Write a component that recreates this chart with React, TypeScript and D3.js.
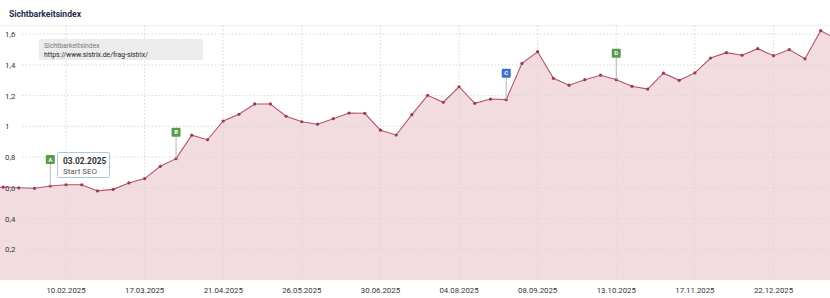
import React from "react";
import * as d3 from "d3";

const dates = [
  "06.01.2025","13.01.2025","20.01.2025","27.01.2025","03.02.2025","10.02.2025","17.02.2025","24.02.2025",
  "03.03.2025","10.03.2025","17.03.2025","24.03.2025","31.03.2025","07.04.2025","14.04.2025","21.04.2025",
  "28.04.2025","05.05.2025","12.05.2025","19.05.2025","26.05.2025","02.06.2025","09.06.2025","16.06.2025",
  "23.06.2025","30.06.2025","07.07.2025","14.07.2025","21.07.2025","28.07.2025","04.08.2025","11.08.2025",
  "18.08.2025","25.08.2025","01.09.2025","08.09.2025","15.09.2025","22.09.2025","29.09.2025","06.10.2025",
  "13.10.2025","20.10.2025","27.10.2025","03.11.2025","10.11.2025","17.11.2025","24.11.2025","01.12.2025",
  "08.12.2025","15.12.2025","22.12.2025","29.12.2025","05.01.2026","12.01.2026","19.01.2026",
];
const values = [
  0.60, 0.605, 0.60, 0.597, 0.612, 0.62, 0.62, 0.58,
  0.59, 0.632, 0.66, 0.74, 0.79, 0.943, 0.913, 1.035,
  1.079, 1.146, 1.146, 1.066, 1.03, 1.014, 1.05, 1.087,
  1.085, 0.975, 0.944, 1.076, 1.202, 1.157, 1.258, 1.15,
  1.178, 1.174, 1.41, 1.486, 1.313, 1.268, 1.304, 1.333,
  1.304, 1.261, 1.243, 1.346, 1.30, 1.348, 1.445, 1.48,
  1.463, 1.506, 1.46, 1.50, 1.44, 1.623, 1.57,
];
const xTickLabels = ["10.02.2025","17.03.2025","21.04.2025","26.05.2025","30.06.2025","04.08.2025","08.09.2025","13.10.2025","17.11.2025","22.12.2025"];
const yTicks = [0.2, 0.4, 0.6, 0.8, 1.0, 1.2, 1.4, 1.6];
const eventDates = ["03.02.2025", "31.03.2025", "25.08.2025", "13.10.2025"];
const eventLetters = ["A", "B", "C", "D"];
const eventColors = ["#5a9a4b", "#5a9a4b", "#3d6fce", "#5a9a4b"];

const parse = (s: string) => {
  const [d, m, y] = s.split(".").map(Number);
  return new Date(Date.UTC(y, m - 1, d));
};

const W = 830, H = 298;
const FONT = "Roboto, 'Noto Sans', sans-serif";

export default function App() {
  const x = d3.scaleUtc().domain([parse("10.02.2025"), parse("22.12.2025")]).range([66, 773.5]);
  const y = d3.scaleLinear().domain([0, 1.6]).range([280, 34.2]);
  const data = dates.map((d, i) => ({ date: parse(d), v: values[i] }));
  const area = d3.area<{ date: Date; v: number }>().x(d => x(d.date)).y0(y(0)).y1(d => y(d.v));
  const line = d3.line<{ date: Date; v: number }>().x(d => x(d.date)).y(d => y(d.v));
  const fmt = (v: number) => (Math.round(v * 10) / 10).toString().replace(".", ",");

  return (
    <svg width={W} height={H} style={{ position: "absolute", left: 0, top: 0, background: "#fff" }} fontFamily={FONT}>
      <defs>
        <clipPath id="plot"><rect x={0} y={20} width={W} height={262} /></clipPath>
      </defs>
      <text x={9} y={16.5} fontSize={8.6} fontWeight="bold" fill="#1f2d4e">Sichtbarkeitsindex</text>
      <line x1={0} x2={W} y1={25.5} y2={25.5} stroke="#efefef" />
      <g clipPath="url(#plot)">
        <path d={area(data) || ""} fill="#f2dce0" />
      </g>
      {yTicks.map(t => (
        <g key={t}>
          <line x1={22} x2={W} y1={y(t)} y2={y(t)} stroke="#d8d8d8" strokeDasharray="1.5,2" />
          <text x={5} y={y(t) + 3} fontSize={7.8} fill="#333">{fmt(t)}</text>
        </g>
      ))}
      {xTickLabels.map(t => (
        <g key={t}>
          <line x1={x(parse(t))} x2={x(parse(t))} y1={26} y2={280} stroke="#d8d8d8" strokeDasharray="1.5,2" />
          <text x={x(parse(t))} y={293} fontSize={7.8} fill="#333" textAnchor="middle">{t}</text>
        </g>
      ))}
      <g clipPath="url(#plot)">
        <path d={line(data) || ""} fill="none" stroke="#b4536a" strokeWidth={1.1} />
        {data.map((d, i) => (
          <circle key={i} cx={x(d.date)} cy={y(d.v)} r={1.6} fill="#9c3850" />
        ))}
      </g>
      {eventDates.map((e, i) => {
        const idx = dates.indexOf(e);
        const px = x(parse(e));
        const py = y(values[idx]);
        const top = py - 31;
        return (
          <g key={e}>
            <line x1={px} x2={px} y1={top + 9} y2={py} stroke="#b8b8b8" strokeWidth={1} />
            <rect x={px - 4.5} y={top} width={9} height={9} rx={1} fill={eventColors[i]} />
            <text x={px} y={top + 6.6} fontSize={6} fontWeight="bold" fill="#fff" textAnchor="middle">{eventLetters[i]}</text>
          </g>
        );
      })}
      <rect x={57.5} y={152.5} width={52} height={25} rx={1} fill="#fff" stroke="#a9c9e2" />
      <text x={63} y={163.5} fontSize={8.4} fontWeight="bold" fill="#333">03.02.2025</text>
      <text x={63} y={174} fontSize={8} fill="#555">Start SEO</text>
      <rect x={39} y={39} width={164} height={21} rx={2} fill="#ececec" />
      <text x={44} y={47.5} fontSize={6.8} fill="#777">Sichtbarkeitsindex</text>
      <text x={44} y={56.5} fontSize={6.8} fill="#222">https://www.sistrix.de/frag-sistrix/</text>
    </svg>
  );
}
